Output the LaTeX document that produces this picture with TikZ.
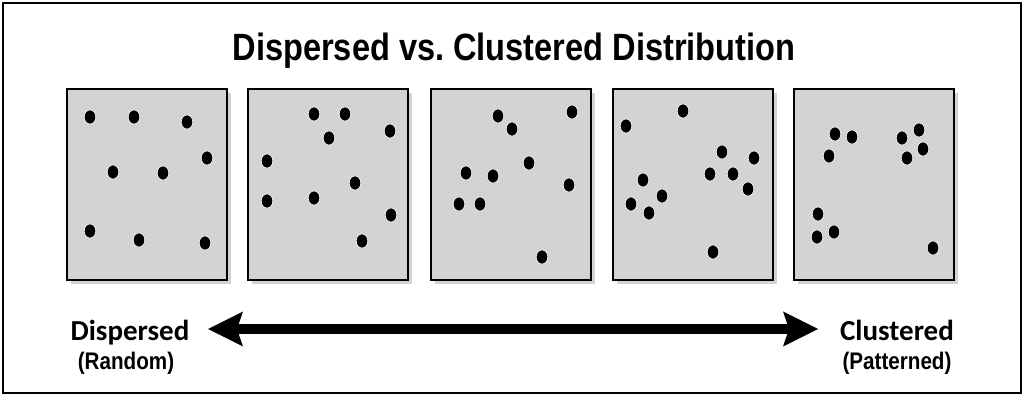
\documentclass[tikz,border=0pt]{standalone}
\usepackage{fontspec}
\setmainfont{Liberation Sans}
\newfontfamily\endfont{Carlito}
\usetikzlibrary{arrows.meta,shadows}
\definecolor{panelgray}{RGB}{211,211,211}
\tikzset{
  panel/.style={draw=black,line width=2pt,fill=panelgray,minimum width=160pt,minimum height=191pt,inner sep=0pt,
    drop shadow={shadow xshift=4pt,shadow yshift=-4pt,opacity=0.35,fill=black!50}},
  dot/.style={fill=black,draw=white,line width=0.6pt},
  endlabel/.style={font=\endfont\bfseries\fontsize{29}{29}\selectfont,anchor=base,inner sep=0pt},
  sublabel/.style={font=\bfseries\fontsize{24}{24}\selectfont,anchor=base,inner sep=0pt,xscale=0.86},
  bigarrow/.style={line width=10pt,{Stealth[length=35pt,width=35pt,inset=6pt,line width=0pt]}-{Stealth[length=35pt,width=35pt,inset=6pt,line width=0pt]}}
}
\begin{document}
\begin{tikzpicture}[x=1pt,y=-1pt]
\useasboundingbox (0,0) rectangle (1023,395);
\draw[line width=2.5pt] (3,3) rectangle (1021,393);
\node[font=\bfseries\fontsize{38}{38}\selectfont,xscale=0.857,anchor=base,inner sep=0pt] (title) at (514,61) {Dispersed vs.\ Clustered Distribution};
% panels
\foreach \px [count=\i] in {147,328,511,693,874}
  \node[panel] (p\i) at (\px,184.5) {};
% dots, one panel per line
\foreach \dx/\dy in {90/117,134/117,187/122,207/158,113/172,163/173,90/231,139/240,205/243,
  314/114,345/114,329/138,390/131,267/161,355/183,267/201,314/198,391/215,362/241,
  498/116,572/112,512/129,529/163,466/173,493/176,569/185,459/204,480/204,542/257,
  683/111,626/126,722/152,754/158,710/174,733/174,748/189,643/180,662/196,631/204,649/213,713/252,
  835/134,852/137,829/156,919/130,902/138,923/149,907/158,818/214,834/232,817/237,933/248}
  \filldraw[dot] (\dx,\dy) ellipse (5.8 and 7);
% scale
\node[endlabel] (disp) at (130,341) {Dispersed};
\node[sublabel] (rand) at (126,370) {(Random)};
\node[endlabel] (clus) at (897,341) {Clustered};
\node[sublabel] (patt) at (897,370) {(Patterned)};
\coordinate (tipL) at (208,329);
\coordinate (tipR) at (818,329);
\draw[bigarrow] (tipL) -- (tipR);
\end{tikzpicture}
\end{document}
